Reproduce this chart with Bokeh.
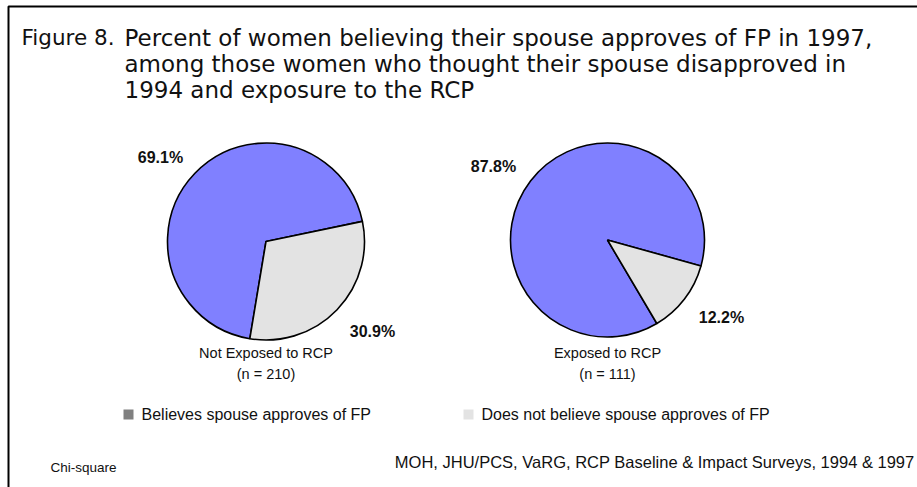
from bokeh.plotting import figure
from bokeh.embed import file_html
from bokeh.resources import INLINE
from bokeh.models import ColumnDataSource
from bokeh.core.properties import value
import math

# ---------------- data ----------------
title_head = "Figure 8."
title_lines = [
    "Percent of women believing their spouse approves of FP in 1997,",
    "among those women who thought their spouse disapproved in",
    "1994 and exposure to the RCP",
]
groups = ["Not Exposed to RCP", "Exposed to RCP"]
n_labels = ["(n = 210)", "(n = 111)"]
approves = [69.1, 87.8]
not_approves = [30.9, 12.2]
legend_labels = ["Believes spouse approves of FP", "Does not believe spouse approves of FP"]
footnote_left = "Chi-square"
footnote_right = "MOH, JHU/PCS, VaRG, RCP Baseline & Impact Surveys, 1994 & 1997"

# ---------------- style / layout ----------------
W, H = 917, 487
def Y(y):
    return H - y

BLUE = "#8080FF"
LIGHT = "#E3E3E3"
LEG_DARK = "#808080"
SANS = "Liberation Sans"
TXT = "#111111"

centers = [(265.5, 241.0), (607.0, 239.5)]
radii = [98.5, 97.0]
start_deg = [11.8, -15.5]
pct_pos_approve = [(160, 157), (493, 166)]
pct_pos_not = [(372, 331), (721, 317)]

p = figure(width=W, height=H, x_range=(0, W), y_range=(0, H),
           x_axis_type=None, y_axis_type=None,
           output_backend="svg", toolbar_location=None, min_border=0)
p.grid.visible = False
p.outline_line_color = None
p.background_fill_color = "white"
p.border_fill_color = "white"

# frame (left and top lines)
p.line(x=[8, 8, W + 5], y=[Y(H + 5), Y(6), Y(6)], line_color="black", line_width=2)

# title
p.text(x=[21], y=[Y(37)], text=[title_head],
       text_font=value("DejaVu Sans"), text_font_size="21.5px",
       text_baseline="middle", text_align="left", text_color=TXT)
p.text(x=[124, 124, 124], y=[Y(37), Y(63), Y(89)], text=title_lines,
       text_font=value("DejaVu Sans"), text_font_size="23px",
       text_baseline="middle", text_align="left", text_color=TXT)

# pies
for i in range(len(groups)):
    cx, cy = centers[i]
    r = radii[i]
    s = start_deg[i]
    a_end = s + approves[i] / 100.0 * 360.0
    n_end = a_end + not_approves[i] / 100.0 * 360.0
    src = ColumnDataSource(dict(
        start=[math.radians(s), math.radians(a_end)],
        end=[math.radians(a_end), math.radians(n_end)],
        color=[BLUE, LIGHT],
    ))
    p.wedge(x=cx, y=Y(cy), radius=r, start_angle="start", end_angle="end",
            fill_color="color", line_color="black", line_width=1.6, source=src)

    p.text(x=[pct_pos_approve[i][0]], y=[Y(pct_pos_approve[i][1])],
           text=[f"{approves[i]:.1f}%"], text_font=value(SANS), text_font_style="bold",
           text_font_size="16px", text_align="center", text_baseline="middle", text_color=TXT)
    p.text(x=[pct_pos_not[i][0]], y=[Y(pct_pos_not[i][1])],
           text=[f"{not_approves[i]:.1f}%"], text_font=value(SANS), text_font_style="bold",
           text_font_size="16px", text_align="center", text_baseline="middle", text_color=TXT)

    p.text(x=[cx, cx], y=[Y(352), Y(373)], text=[groups[i], n_labels[i]],
           text_font=value(SANS), text_font_size="14.5px",
           text_align="center", text_baseline="middle", text_color=TXT)

# legend
leg_sq_x = [128, 468]
leg_colors = [LEG_DARK, LIGHT]
p.rect(x=leg_sq_x, y=[Y(414)] * 2, width=10, height=10, fill_color=leg_colors, line_color=None)
p.text(x=[x + 13 for x in leg_sq_x], y=[Y(414)] * 2, text=legend_labels,
       text_font=value(SANS), text_font_size="16px",
       text_align="left", text_baseline="middle", text_color=TXT)

# footnotes
p.text(x=[50], y=[Y(467)], text=[footnote_left], text_font=value(SANS), text_font_size="13.5px",
       text_align="left", text_baseline="middle", text_color=TXT)
p.text(x=[914], y=[Y(461)], text=[footnote_right], text_font=value(SANS), text_font_size="16.5px",
       text_align="right", text_baseline="middle", text_color=TXT)

open("out.html", "w").write(file_html(p, INLINE))
